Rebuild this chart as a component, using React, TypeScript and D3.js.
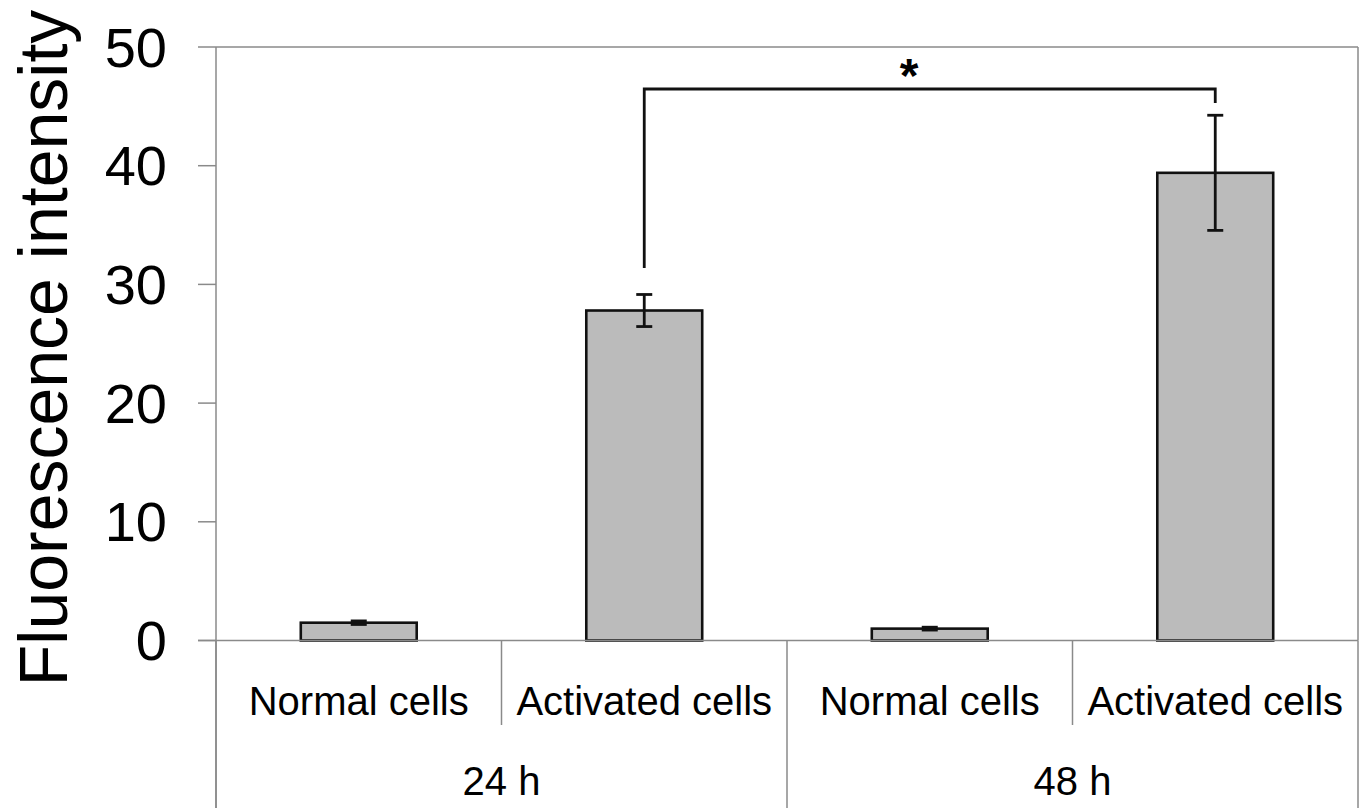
import { useRef, useEffect } from "react";
import * as d3 from "d3";

const categories = ["24h-normal", "24h-activated", "48h-normal", "48h-activated"];
const catLabels = ["Normal cells", "Activated cells", "Normal cells", "Activated cells"];
const groups = ["24 h", "48 h"];
const values = [1.5, 27.8, 1.0, 39.4];
const errors = [0.15, 1.35, 0.12, 4.85];
const yTicks = [0, 10, 20, 30, 40, 50];

const width = 1365;
const height = 808;

export default function App() {
  const svgRef = useRef<SVGSVGElement>(null);

  useEffect(() => {
    if (!svgRef.current) return;
    const svg = d3.select(svgRef.current);
    svg.selectAll("*").remove();

    const left = 216;
    const right = 1358;
    const top = 47;
    const zero = 640.5;
    const font = "Arial, 'Liberation Sans', sans-serif";
    const grey = "#8a8a8a";

    const x = d3.scaleBand<string>().domain(categories).range([left, right]).padding(0);
    const y = d3.scaleLinear().domain([0, 50]).range([zero, top]);
    const bw = x.bandwidth() * 0.406;
    const cx = (i: number) => x(categories[i])! + x.bandwidth() / 2;

    // frame
    svg.append("line").attr("x1", left).attr("x2", right).attr("y1", top).attr("y2", top)
      .attr("stroke", grey).attr("stroke-width", 1.5);
    svg.append("line").attr("x1", right).attr("x2", right).attr("y1", top).attr("y2", zero)
      .attr("stroke", grey).attr("stroke-width", 1.5);
    svg.append("line").attr("x1", left).attr("x2", left).attr("y1", top).attr("y2", height)
      .attr("stroke", grey).attr("stroke-width", 1.5);

    // y ticks
    const g = svg.append("g");
    g.selectAll("line.tick").data(yTicks).join("line")
      .attr("x1", left - 18).attr("x2", left)
      .attr("y1", (d) => y(d)).attr("y2", (d) => y(d))
      .attr("stroke", grey).attr("stroke-width", 1.5);
    g.selectAll("text").data(yTicks).join("text")
      .attr("x", 167).attr("y", (d) => y(d)).attr("dy", "0.35em")
      .attr("text-anchor", "end").attr("font-family", font).attr("font-size", 56)
      .text((d) => d);

    svg.append("text")
      .attr("transform", `translate(67,${348}) rotate(-90)`)
      .attr("text-anchor", "middle").attr("font-family", font).attr("font-size", 68)
      .text("Fluorescence intensity");

    // bars
    svg.selectAll("rect.bar").data(values).join("rect")
      .attr("x", (_d, i) => cx(i) - bw / 2).attr("width", bw)
      .attr("y", (d) => y(d)).attr("height", (d) => zero - y(d))
      .attr("fill", "#bbbbbb").attr("stroke", "#111").attr("stroke-width", 2.6);

    // zero line
    svg.append("line").attr("x1", left - 18).attr("x2", right).attr("y1", zero).attr("y2", zero)
      .attr("stroke", grey).attr("stroke-width", 1.5);

    // error bars
    const eb = svg.append("g").attr("stroke", "#111").attr("stroke-width", 2.8);
    values.forEach((v, i) => {
      const c = cx(i);
      const e = errors[i];
      eb.append("line").attr("x1", c).attr("x2", c).attr("y1", y(v + e)).attr("y2", y(v - e));
      eb.append("line").attr("x1", c - 8).attr("x2", c + 8).attr("y1", y(v + e)).attr("y2", y(v + e));
      eb.append("line").attr("x1", c - 8).attr("x2", c + 8).attr("y1", y(v - e)).attr("y2", y(v - e));
    });

    // significance bracket
    const bY = 89;
    svg.append("path")
      .attr("d", `M${cx(1)},268 V${bY} H${cx(3)} V103`)
      .attr("fill", "none").attr("stroke", "#111").attr("stroke-width", 2.8);
    svg.append("text").attr("x", 909).attr("y", 92).attr("text-anchor", "middle")
      .attr("font-family", font).attr("font-size", 48).attr("font-weight", "bold")
      .text("*");

    // category axis
    const dividers = [0, 1, 2, 3, 4].map((i) => left + i * x.bandwidth());
    svg.selectAll("line.div").data(dividers).join("line")
      .attr("x1", (d) => d).attr("x2", (d) => d)
      .attr("y1", zero).attr("y2", (_d, i) => (i % 2 === 0 ? height : 725))
      .attr("stroke", grey).attr("stroke-width", 1.5);

    svg.selectAll("text.cat").data(catLabels).join("text")
      .attr("x", (_d, i) => cx(i)).attr("y", 715)
      .attr("text-anchor", "middle").attr("font-family", font).attr("font-size", 40)
      .text((d) => d);

    svg.selectAll("text.grp").data(groups).join("text")
      .attr("x", (_d, i) => (cx(i * 2) + cx(i * 2 + 1)) / 2).attr("y", 795)
      .attr("text-anchor", "middle").attr("font-family", font).attr("font-size", 40)
      .text((d) => d);
  }, []);

  return (
    <>
      <style>{`body{margin:0;background:#fff}`}</style>
      <svg ref={svgRef} width={width} height={height} style={{ display: "block" }} />
    </>
  );
}
